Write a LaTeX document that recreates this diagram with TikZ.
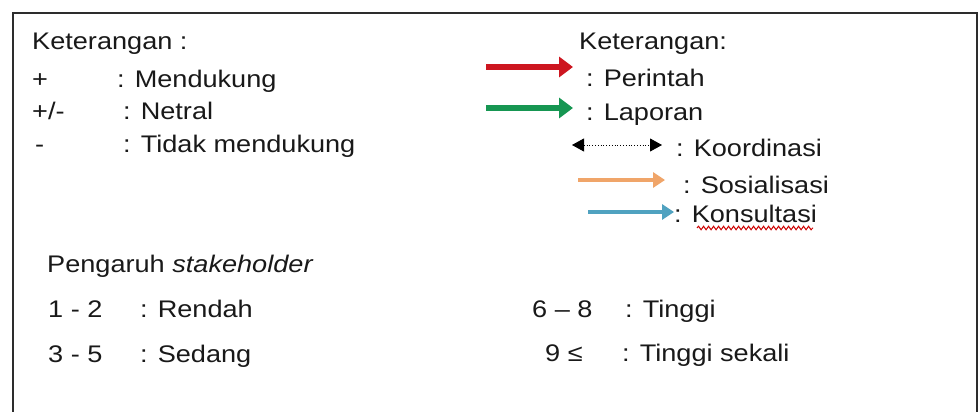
\documentclass[tikz,border=0pt]{standalone}
\usepackage{fontspec}
\setmainfont{Liberation Sans}[FakeStretch=1.13]
\usetikzlibrary{arrows.meta,decorations.pathmorphing}
\definecolor{redarr}{RGB}{205,22,32}
\definecolor{greenarr}{RGB}{22,150,82}
\definecolor{orangearr}{RGB}{240,165,105}
\definecolor{bluearr}{RGB}{80,162,192}
\definecolor{frame}{RGB}{45,45,45}
\definecolor{txt}{RGB}{25,25,25}
\begin{document}
\begin{tikzpicture}[x=1pt,y=-1pt,
  lbl/.style={anchor=base west,inner sep=0pt,text=txt,font=\fontsize{24}{28}\selectfont},
  fatarrow/.style={line width=6.5pt,-{Triangle[length=14pt,width=20pt]}},
  slimarrow/.style={line width=4.5pt,-{Triangle[length=12pt,width=15pt]}},
  koord/.style={line width=0.8pt,dotted,{Triangle[length=12pt,width=13pt]}-{Triangle[length=12pt,width=13pt]}}]
\useasboundingbox[fill=white] (0,0) rectangle (978,412);
\draw[frame,line width=2pt] (13,412) -- (13,13) -- (977,13) -- (977,412);
% left legend
\node[lbl] (k1) at (32,50) {Keterangan :};
\node[lbl] (s1) at (32,88) {+};
\node[lbl] (t1) at (117,88) {: Mendukung};
\node[lbl] (s2) at (32,120) {+/-};
\node[lbl] (t2) at (123,120) {: Netral};
\node[lbl] (s3) at (35,152) {-};
\node[lbl] (t3) at (123,152) {: Tidak mendukung};
% right legend
\node[lbl] (k2) at (579,50) {Keterangan:};
\coordinate (r1) at (486,67); \coordinate (r2) at (573,67);
\draw[fatarrow,redarr] (r1) -- (r2);
\node[lbl] (p1) at (586,87) {: Perintah};
\coordinate (g1) at (486,108); \coordinate (g2) at (573,108);
\draw[fatarrow,greenarr] (g1) -- (g2);
\node[lbl] (p2) at (586,121) {: Laporan};
\coordinate (c1) at (572,145); \coordinate (c2) at (662,145);
\draw[koord,black] (c1) -- (c2);
\node[lbl] (p3) at (676,157) {: Koordinasi};
\coordinate (o1) at (578,180); \coordinate (o2) at (665,180);
\draw[slimarrow,orangearr] (o1) -- (o2);
\node[lbl] (p4) at (683,193) {: Sosialisasi};
\coordinate (b1) at (588,212); \coordinate (b2) at (674,212);
\draw[slimarrow,bluearr] (b1) -- (b2);
\node[lbl] (p5) at (674,222) {: Konsultasi};
\coordinate (w1) at (697,228); \coordinate (w2) at (813,228);
\draw[red!80!black,line width=1pt,decorate,decoration={snake,amplitude=1.8pt,segment length=5pt}] (w1) -- (w2);
% bottom
\node[lbl] (pg) at (47,272) {Pengaruh \textit{stakeholder}};
\node[lbl] (n1) at (48,317) {1 - 2};
\node[lbl] (v1) at (140,317) {: Rendah};
\node[lbl] (n2) at (48,362) {3 - 5};
\node[lbl] (v2) at (140,362) {: Sedang};
\node[lbl] (n3) at (532,317) {6 – 8};
\node[lbl] (v3) at (625,317) {: Tinggi};
\node[lbl] (n4) at (545,361) {9 ≤};
\node[lbl] (v4) at (622,361) {: Tinggi sekali};
\end{tikzpicture}
\end{document}
